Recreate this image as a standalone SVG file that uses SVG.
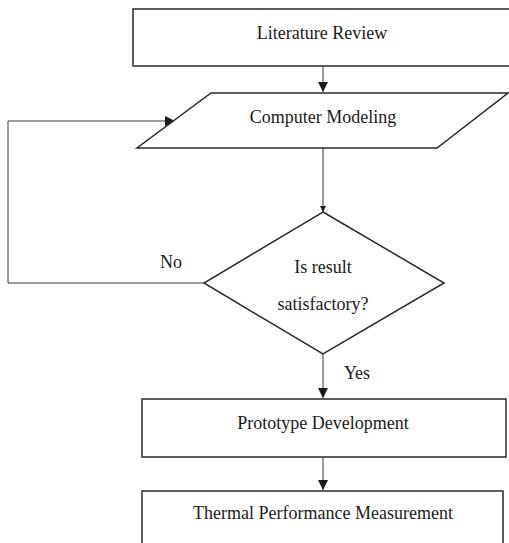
<svg xmlns="http://www.w3.org/2000/svg" width="509" height="543" viewBox="0 0 509 543">
<style>
.node{fill:#fff;stroke:#2a2a2a;stroke-width:1.5}
.lbl{font-family:"Liberation Serif","Times New Roman",serif;font-size:18px;fill:#1a1a1a;text-anchor:middle}
.con{fill:none;stroke:#3a3a3a;stroke-width:1}
</style>
<defs>
<marker id="ah" markerWidth="10" markerHeight="10" refX="10" refY="5" orient="auto" markerUnits="userSpaceOnUse">
<path d="M0,0 L10,5 L0,10 Z" fill="#1a1a1a"/>
</marker>
<marker id="ahs" markerWidth="6" markerHeight="6" refX="6" refY="3" orient="auto" markerUnits="userSpaceOnUse">
<path d="M0,0 L6,3 L0,6 Z" fill="#1a1a1a"/>
</marker>
</defs>
<rect width="509" height="543" fill="#fff"/>
<g id="connectors">
<line class="con" x1="323" y1="67" x2="323" y2="92" marker-end="url(#ah)"/>
<line class="con" x1="323" y1="148" x2="323" y2="212" marker-end="url(#ahs)"/>
<polyline class="con" points="204,283 8,283 8,121 175,121" marker-end="url(#ah)"/>
<line class="con" x1="323" y1="354" x2="323" y2="398" marker-end="url(#ah)"/>
<line class="con" x1="323" y1="457" x2="323" y2="490" marker-end="url(#ah)"/>
<text class="lbl" x="171" y="268">No</text>
<text class="lbl" x="357" y="379">Yes</text>
</g>
<g id="literature-review">
<rect class="node" x="133" y="9" width="385" height="57"/>
<text class="lbl" x="322" y="39">Literature Review</text>
</g>
<g id="computer-modeling">
<polygon class="node" points="211,93 508,93 437,148 137,148"/>
<text class="lbl" x="323" y="123">Computer Modeling</text>
</g>
<g id="decision">
<polygon class="node" points="323,212 444,283 323,354 204,283"/>
<text class="lbl" x="323" y="273">Is result</text>
<text class="lbl" x="323" y="310">satisfactory?</text>
</g>
<g id="prototype-development">
<rect class="node" x="142" y="399" width="364" height="58"/>
<text class="lbl" x="323" y="429">Prototype Development</text>
</g>
<g id="thermal-performance">
<rect class="node" x="142" y="491" width="361" height="70"/>
<text class="lbl" x="323" y="519">Thermal Performance Measurement</text>
</g>
</svg>
